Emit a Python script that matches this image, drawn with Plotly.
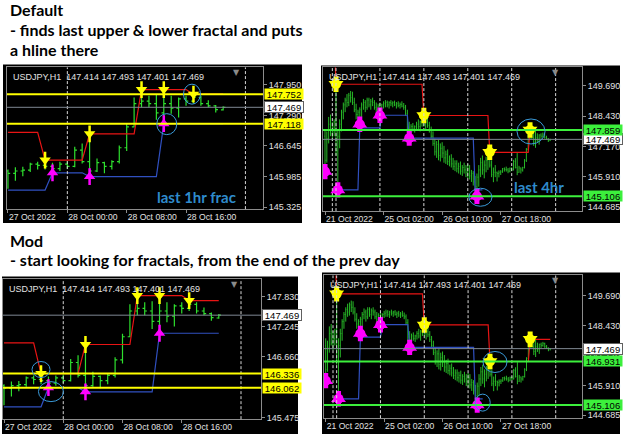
import plotly.graph_objects as go

# ---------------- data ----------------
# USDJPY H1 bars, bar 0 = 21 Oct 2022 20:00 ... bar 123 = 28 Oct 2022 21:00
bar_open = [147.60, 146.60, 147.50, 148.10, 147.70, 147.90, 148.20, 147.00, 147.60, 148.10,
            148.60, 148.90, 149.10, 149.00, 149.30, 149.20, 149.00, 148.70, 148.50, 148.60,
            148.70, 148.90, 149.00, 148.80, 149.10, 148.90, 149.05, 149.00, 148.80, 148.70,
            148.85, 148.70, 148.90, 148.95, 149.00, 148.90, 149.00, 148.95, 149.00, 148.90,
            148.95, 148.88, 148.92, 148.85, 148.80, 148.55, 147.95, 147.85, 148.00, 147.90,
            148.00, 148.10, 148.00, 148.20, 148.30, 148.10, 148.20, 148.05, 147.85, 147.60,
            147.30, 146.95, 147.25, 146.80, 147.10, 146.90, 146.70, 146.85, 146.55, 146.65,
            146.45, 146.35, 146.45, 146.25, 146.35, 146.15, 146.30, 146.20, 146.10, 146.25,
            145.95, 146.05, 145.70, 145.50, 145.90, 146.20, 146.50, 146.20, 146.40, 146.60,
            146.70, 146.40, 146.00, 146.10,
            146.10, 146.05, 146.10, 146.12, 146.25, 146.22, 146.20, 146.15, 146.25, 146.20,
            146.55, 146.30, 146.10, 146.28, 146.20, 146.30, 146.60, 147.05, 147.55, 147.60,
            147.55, 147.35, 147.55, 147.45, 147.65, 147.60, 147.68, 147.55, 147.50, 147.414]
bar_high = [147.90, 147.80, 148.40, 148.50, 148.20, 148.30, 149.76, 147.90, 148.30, 148.70,
            149.00, 149.20, 149.35, 149.40, 149.48, 149.45, 149.20, 148.95, 148.70, 148.80,
            149.00, 149.15, 149.10, 149.20, 149.20, 149.15, 149.20, 149.10, 149.00, 148.95,
            149.00, 148.95, 149.05, 149.10, 149.08, 149.05, 149.10, 149.05, 149.08, 149.02,
            149.05, 149.00, 149.05, 148.98, 148.90, 148.70, 148.20, 148.10, 148.15, 148.05,
            148.20, 148.30, 148.25, 148.40, 148.46, 148.35, 148.40, 148.20, 148.00, 147.80,
            147.50, 147.40, 147.45, 147.30, 147.35, 147.20, 147.00, 147.05, 146.80, 146.85,
            146.70, 146.60, 146.60, 146.50, 146.55, 146.40, 146.50, 146.40, 146.45, 146.40,
            146.20, 146.15, 145.95, 146.05, 146.40, 146.70, 146.80, 146.60, 146.75, 146.85,
            146.93, 146.60, 146.30, 146.40,
            146.13, 146.18, 146.19, 146.28, 146.30, 146.336, 146.28, 146.30, 146.31, 146.62,
            146.69, 146.90, 146.37, 146.30, 146.33, 146.65, 147.11, 147.68, 147.85, 147.72,
            147.74, 147.85, 147.72, 147.68, 147.72, 147.752, 147.72, 147.62, 147.52, 147.493]
bar_low = [146.13, 146.50, 147.30, 147.60, 147.40, 147.60, 146.80, 145.37, 147.10, 147.80,
           148.30, 148.60, 148.80, 148.85, 149.00, 148.90, 148.60, 148.30, 148.20, 148.10,
           148.40, 148.70, 148.60, 148.70, 148.80, 148.70, 148.85, 148.70, 148.55, 148.50,
           148.47, 148.55, 148.75, 148.80, 148.80, 148.75, 148.85, 148.80, 148.85, 148.75,
           148.80, 148.75, 148.80, 148.70, 148.45, 147.80, 147.52, 147.70, 147.80, 147.75,
           147.85, 147.90, 147.80, 148.00, 148.00, 147.85, 147.95, 147.75, 147.50, 147.20,
           146.80, 146.70, 146.60, 146.55, 146.70, 146.50, 146.45, 146.40, 146.35, 146.30,
           146.20, 146.15, 146.10, 146.05, 146.00, 145.95, 146.05, 145.90, 145.85, 145.80,
           145.70, 145.55, 145.30, 145.106, 145.50, 145.90, 146.00, 145.85, 146.10, 146.20,
           146.30, 145.90, 145.69, 145.90,
           145.72, 145.89, 145.99, 146.08, 146.13, 146.13, 146.062, 146.10, 146.15, 146.18,
           146.26, 145.98, 146.08, 146.05, 146.13, 146.26, 146.53, 147.04, 147.47, 147.47,
           147.20, 147.118, 147.33, 147.25, 147.50, 147.55, 147.50, 147.47, 147.36, 147.401]
bar_close = [146.60, 147.50, 148.10, 147.70, 147.90, 148.20, 147.00, 147.60, 148.10, 148.60,
             148.90, 149.10, 149.00, 149.30, 149.20, 149.00, 148.70, 148.50, 148.60, 148.70,
             148.90, 149.00, 148.80, 149.10, 148.90, 149.05, 149.00, 148.80, 148.70, 148.85,
             148.70, 148.90, 148.95, 149.00, 148.90, 149.00, 148.95, 149.00, 148.90, 148.95,
             148.88, 148.92, 148.85, 148.80, 148.55, 147.95, 147.85, 148.00, 147.90, 148.00,
             148.10, 148.00, 148.20, 148.30, 148.10, 148.20, 148.05, 147.85, 147.60, 147.30,
             146.95, 147.25, 146.80, 147.10, 146.90, 146.70, 146.85, 146.55, 146.65, 146.45,
             146.35, 146.45, 146.25, 146.35, 146.15, 146.30, 146.20, 146.10, 146.25, 145.95,
             146.05, 145.70, 145.50, 145.90, 146.20, 146.50, 146.20, 146.40, 146.60, 146.70,
             146.40, 146.00, 146.10, 146.20,
             146.05, 146.10, 146.12, 146.25, 146.22, 146.20, 146.15, 146.25, 146.20, 146.55,
             146.30, 146.10, 146.28, 146.20, 146.30, 146.60, 147.05, 147.55, 147.60, 147.55,
             147.35, 147.55, 147.45, 147.65, 147.60, 147.68, 147.55, 147.50, 147.42, 147.469]

symbol_header = "USDJPY,H1  147.414 147.493 147.401 147.469"
bid_price = 147.469
short_first_bar = 94  # 27 Oct 16:00

short_tick_bars = [0, 8, 16, 24]
short_tick_labels = ["27 Oct 2022", "28 Oct 00:00", "28 Oct 08:00", "28 Oct 16:00"]
wide_tick_bars = [0, 32, 64, 96]
wide_tick_labels = ["21 Oct 2022", "25 Oct 02:00", "26 Oct 10:00", "27 Oct 18:00"]
short_day_breaks = [8, 32]
wide_day_breaks = [4, 6, 30, 54, 78, 102, 126]

# 1hr fractal level lines (per bar of the short window)
h1_upper_line = [146.93, 146.93, 146.93, 146.93, 146.93,
                 146.336, 146.336, 146.336, 146.336, 146.336, 146.336,
                 146.90, 146.90, 146.90, 146.90, 146.90, 146.90, 146.90,
                 147.85, 147.85, 147.85, 147.85, 147.85, 147.85, 147.85,
                 147.752, 147.752, 147.752, 147.752, 147.752]
h1_lower_line = [145.69, 145.69, 145.69, 145.69, 145.69, 145.69,
                 146.062, 146.062, 146.062, 146.062, 146.062,
                 145.98, 145.98, 145.98, 145.98, 145.98, 145.98, 145.98, 145.98, 145.98, 145.98,
                 147.118, 147.118, 147.118, 147.118, 147.118, 147.118, 147.118, 147.118, 147.118]
h1_up_bars = [5, 11, 18, 21, 25]
h1_up_vals = [146.336, 146.90, 147.85, 147.85, 147.752]
h1_dn_bars = [6, 11, 21]
h1_dn_vals = [146.062, 145.98, 147.118]

# 4hr fractal level lines (wide window)
h4_upper_bars = [5, 6, 53, 54, 89, 90, 111, 112, 123]
h4_upper_vals = [151.90, 149.76, 149.76, 148.46, 148.46, 146.931, 146.931, 147.859, 147.859]
h4_lower_bars = [7, 18, 19, 30, 31, 45, 46, 81, 82, 86]
h4_lower_vals = [145.37, 145.37, 147.95, 147.95, 148.47, 148.47, 147.52, 147.52, 145.37, 145.37]
h4_up_bars = [6, 54, 90, 112]
h4_up_vals = [149.76, 148.46, 146.931, 147.859]
h4_dn_bars = [0, 7, 19, 30, 46, 83]
h4_dn_vals = [146.13, 145.37, 148.10, 148.47, 147.52, 145.106]

default_h1_levels = [147.752, 147.118]
default_h4_levels = [147.859, 145.106]
mod_h1_levels = [146.336, 146.062]
mod_h4_levels = [146.931, 145.106]

tl_ticks = [145.325, 145.985, 146.645, 147.290, 147.950]
tr_ticks = [144.685, 145.910, 147.170, 148.430, 149.690]
bl_ticks = [145.475, 146.660, 147.245, 147.830]
br_ticks = [144.685, 145.910, 147.170, 148.430, 149.690]

# ---------------- styling ----------------
W, H = 625, 440
BAR_GREEN = "#2ee02e"
BAR_GREEN_WIDE = "#27b827"
FRAME = "#8c8c8c"
TXT = "#e2e2e2"
YELLOW = "#ffff00"
LIME = "#3cf03c"
MAGENTA = "#ff00ff"
RED = "#e81414"
BLUE = "#3050c0"
NOTE_BLUE = "#2f8bcc"
CIRCLE_BLUE = "#3a9ad9"
BID_GRAY = "#7f8893"
AX_FONT_Y = dict(family="Liberation Sans", size=9, color=TXT)
AX_FONT_X = dict(family="Liberation Sans", size=8.6, color=TXT)


def px(x):
    return x / W


def py(y):
    return 1 - y / H


fig = go.Figure()
shapes = []
annotations = []

# outer black chart windows (paper)
for x0, y0, x1, y1 in [(3, 65, 302, 225), (321, 66, 620, 225), (2, 279, 298, 438), (322, 275, 620, 438)]:
    shapes.append(dict(type="rect", xref="paper", yref="paper", x0=px(x0), x1=px(x1),
                       y0=py(y1), y1=py(y0), fillcolor="black", line=dict(width=0), layer="below"))

panels = [
    dict(n="", xdom=[px(7), px(263)], ydom=[py(211), py(68)], xr=[-0.13, 34.37], yr=[145.282, 148.327],
         wide=False, levels=default_h1_levels, lvl_col=YELLOW, ticks=tl_ticks, note="last 1hr frac",
         note_pos=(0.578, 0.085)),
    dict(n="2", xdom=[px(323), px(582)], ydom=[py(213), py(68)], xr=[-1.1, 140.4], yr=[144.49, 150.46],
         wide=True, levels=default_h4_levels, lvl_col=LIME, ticks=tr_ticks, note="last 4hr",
         note_pos=(0.73, 0.17)),
    dict(n="3", xdom=[px(3), px(261)], ydom=[py(423), py(282)], xr=[-0.135, 34.7], yr=[145.45, 148.163],
         wide=False, levels=mod_h1_levels, lvl_col=YELLOW, ticks=bl_ticks, note=None),
    dict(n="4", xdom=[px(324), px(582)], ydom=[py(422), py(278)], xr=[-0.93, 140.4], yr=[144.56, 150.53],
         wide=True, levels=mod_h4_levels, lvl_col=LIME, ticks=br_ticks, note=None),
]


def arrow_traces(xa, ya, xs, ys, color, down, big):
    tri = "triangle-down" if down else "triangle-up"
    out = []
    if big:
        out.append(go.Scatter(x=xs, y=ys, xaxis=xa, yaxis=ya, mode="markers", hoverinfo="skip",
                              marker=dict(symbol="line-ns", size=11, line=dict(width=5, color=color))))
        out.append(go.Scatter(x=xs, y=ys, xaxis=xa, yaxis=ya, mode="markers", hoverinfo="skip",
                              marker=dict(symbol=tri, size=13, color=color, line=dict(width=0))))
        out.append(go.Scatter(x=xs, y=ys, xaxis=xa, yaxis=ya, mode="markers", hoverinfo="skip",
                              marker=dict(symbol="circle", size=10, color=color, line=dict(width=0))))
    else:
        out.append(go.Scatter(x=xs, y=ys, xaxis=xa, yaxis=ya, mode="markers", hoverinfo="skip",
                              marker=dict(symbol="line-ns", size=12, line=dict(width=2.5, color=color))))
        out.append(go.Scatter(x=xs, y=ys, xaxis=xa, yaxis=ya, mode="markers", hoverinfo="skip",
                              marker=dict(symbol=tri, size=10, color=color, line=dict(width=0))))
    return out


layout_axes = {}
for p in panels:
    n = p["n"]
    xa, ya = "x" + n, "y" + n
    xkey, ykey = "xaxis" + n, "yaxis" + n
    if p["wide"]:
        o, h, l, c = bar_open, bar_high, bar_low, bar_close
        tickv, tickt, breaks = wide_tick_bars, wide_tick_labels, wide_day_breaks
        bcol, bw = BAR_GREEN_WIDE, 1.0
    else:
        s = short_first_bar
        o, h, l, c = bar_open[s:], bar_high[s:], bar_low[s:], bar_close[s:]
        tickv, tickt, breaks = short_tick_bars, short_tick_labels, short_day_breaks
        bcol, bw = BAR_GREEN, 1.2
    idx = list(range(len(o)))

    fig.add_trace(go.Ohlc(x=idx, open=o, high=h, low=l, close=c, xaxis=xa, yaxis=ya,
                          increasing=dict(line=dict(color=bcol, width=bw)),
                          decreasing=dict(line=dict(color=bcol, width=bw)),
                          tickwidth=0.3, hoverinfo="skip"))

    if p["wide"]:
        fig.add_trace(go.Scatter(x=h4_upper_bars, y=h4_upper_vals, xaxis=xa, yaxis=ya, mode="lines",
                                 line=dict(color=RED, width=1.2), hoverinfo="skip"))
        fig.add_trace(go.Scatter(x=h4_lower_bars, y=h4_lower_vals, xaxis=xa, yaxis=ya, mode="lines",
                                 line=dict(color=BLUE, width=1.2), hoverinfo="skip"))
        for t in arrow_traces(xa, ya, h4_up_bars, h4_up_vals, YELLOW, True, True):
            fig.add_trace(t)
        for t in arrow_traces(xa, ya, h4_dn_bars, h4_dn_vals, MAGENTA, False, True):
            fig.add_trace(t)
    else:
        fig.add_trace(go.Scatter(x=idx, y=h1_upper_line, xaxis=xa, yaxis=ya, mode="lines",
                                 line=dict(color=RED, width=1.2), hoverinfo="skip"))
        fig.add_trace(go.Scatter(x=idx, y=h1_lower_line, xaxis=xa, yaxis=ya, mode="lines",
                                 line=dict(color=BLUE, width=1.2), hoverinfo="skip"))
        for t in arrow_traces(xa, ya, h1_up_bars, h1_up_vals, YELLOW, True, False):
            fig.add_trace(t)
        for t in arrow_traces(xa, ya, h1_dn_bars, h1_dn_vals, MAGENTA, False, False):
            fig.add_trace(t)

    layout_axes[xkey] = dict(domain=p["xdom"], range=p["xr"], anchor=ya, tickvals=tickv, ticktext=tickt,
                             ticks="outside", ticklen=3, tickcolor=FRAME, tickfont=AX_FONT_X, tickangle=0,
                             ticklabelposition="outside right", showgrid=False, zeroline=False,
                             showline=True, linecolor=FRAME, linewidth=1, mirror=True,
                             rangeslider=dict(visible=False), fixedrange=True)
    layout_axes[ykey] = dict(domain=p["ydom"], range=p["yr"], anchor=xa, side="right",
                             tickvals=p["ticks"], ticktext=[f"{v:.3f}" for v in p["ticks"]],
                             ticks="outside", ticklen=3, tickcolor=FRAME, tickfont=AX_FONT_Y,
                             showgrid=False, zeroline=False, showline=True, linecolor=FRAME,
                             linewidth=1, mirror=True, fixedrange=True)

    # day separators
    for b in breaks:
        shapes.append(dict(type="line", xref=xa, yref=ya + " domain", x0=b, x1=b, y0=0, y1=1,
                           line=dict(color="#d8d8d8", width=1, dash="3px,2px")))
    # bid line
    shapes.append(dict(type="line", xref=xa + " domain", yref=ya, x0=0, x1=1, y0=bid_price, y1=bid_price,
                       line=dict(color=BID_GRAY, width=1)))
    annotations.append(dict(xref=xa + " domain", yref=ya, x=1, y=bid_price, xanchor="left", yanchor="middle",
                            xshift=1, text=f"{bid_price:.3f}", showarrow=False, bgcolor="white",
                            bordercolor="#606060", borderwidth=1, borderpad=0, width=38, height=10,
                            font=dict(family="Liberation Sans", size=9.5, color="black")))
    # fractal hlines
    for v in p["levels"]:
        shapes.append(dict(type="line", xref=xa + " domain", yref=ya, x0=0, x1=1, y0=v, y1=v,
                           line=dict(color=p["lvl_col"], width=2)))
        annotations.append(dict(xref=xa + " domain", yref=ya, x=1, y=v, xanchor="left", yanchor="middle",
                                xshift=1, text=f"{v:.3f}", showarrow=False, bgcolor=p["lvl_col"],
                                borderpad=0, width=38, height=10,
                                font=dict(family="Liberation Sans", size=9.5, color="black")))
    # header text
    annotations.append(dict(xref=xa + " domain", yref=ya + " domain", x=0, y=1, xshift=4, yshift=-3,
                            xanchor="left", yanchor="top", text=symbol_header, showarrow=False,
                            font=dict(family="Liberation Sans", size=9, color=TXT)))
    # chart shift marker
    annotations.append(dict(xref=xa + " domain", yref=ya + " domain", x=0.897, y=1, yshift=1,
                            xanchor="center", yanchor="top", text="▼", showarrow=False,
                            font=dict(family="DejaVu Sans", size=8, color="#8a8a8a")))
    if p["note"]:
        annotations.append(dict(xref=xa + " domain", yref=ya + " domain", x=p["note_pos"][0],
                                y=p["note_pos"][1], xanchor="left", yanchor="middle",
                                text="<b>" + p["note"] + "</b>", showarrow=False,
                                font=dict(family="Lato", size=15, color=NOTE_BLUE)))


def ring(xa, ya, bx, by, x0, x1, y0, y1):
    return dict(type="circle", xref=xa, yref=ya, xsizemode="pixel", ysizemode="pixel",
                xanchor=bx, yanchor=by, x0=x0, x1=x1, y0=y0, y1=y1,
                line=dict(color=CIRCLE_BLUE, width=1))


shapes.append(ring("x", "y", h1_up_bars[4], h1_up_vals[4], -10, 7, -10, 10))
shapes.append(ring("x", "y", h1_dn_bars[2], h1_dn_vals[2], -7, 13, -11, 10))
shapes.append(ring("x2", "y2", h4_up_bars[3], h4_up_vals[3], -13, 15, -14, 11))
shapes.append(ring("x2", "y2", h4_dn_bars[5], h4_dn_vals[5], -8, 15, -10, 8))
shapes.append(ring("x3", "y3", h1_up_bars[0], h1_up_vals[0], -9, 9, -4, 12))
shapes.append(ring("x3", "y3", h1_dn_bars[0], h1_dn_vals[0], -10, 15, -14, 6))
shapes.append(ring("x4", "y4", h4_up_bars[2], h4_up_vals[2], -7, 17, -11, 10))
shapes.append(ring("x4", "y4", h4_dn_bars[5], h4_dn_vals[5], -2, 13, -6, 11))

# heading texts
title_font = dict(family="Lato", size=16, color="black")
for text, y in [("<b>Default</b>", 10), ("<b>- finds last upper &amp; lower fractal and puts</b>", 30),
                ("<b>a hline there</b>", 50), ("<b>Mod</b>", 243),
                ("<b>- start looking for fractals, from the end of the prev day</b>", 262)]:
    annotations.append(dict(xref="paper", yref="paper", x=px(8), y=py(y), xanchor="left", yanchor="middle",
                            text=text, showarrow=False, font=title_font))

fig.update_layout(width=W, height=H, margin=dict(l=0, r=0, t=0, b=0), paper_bgcolor="white",
                  plot_bgcolor="black", showlegend=False, shapes=shapes, annotations=annotations,
                  **layout_axes)

fig.write_html("out.html")
